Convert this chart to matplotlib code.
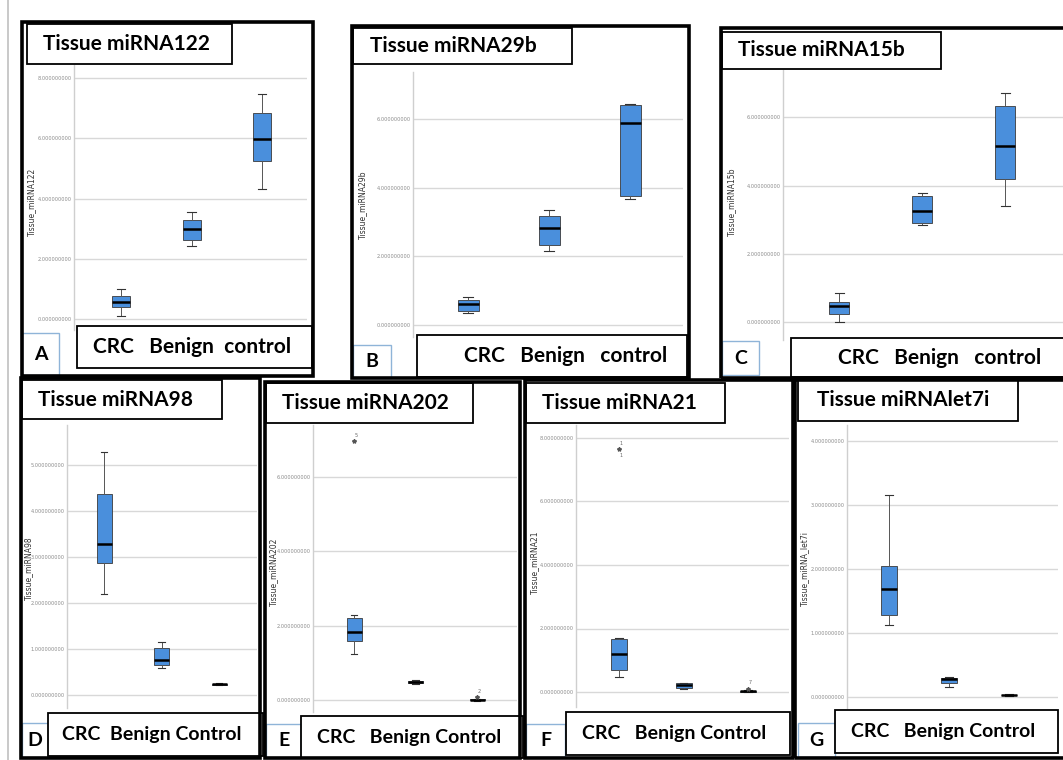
import matplotlib
matplotlib.use('Agg')
import matplotlib.pyplot as plt
from matplotlib.patches import Rectangle

W, H = 1063, 760

# five-number summaries per group: whislo, q1, median, q3, whishi
mir122 = [[0.10, 0.41, 0.55, 0.78, 1.00], [2.44, 2.61, 2.99, 3.30, 3.55], [4.33, 5.26, 5.98, 6.84, 7.49]]
mir29b = [[0.34, 0.41, 0.60, 0.73, 0.81], [2.15, 2.32, 2.84, 3.18, 3.34], [3.67, 3.76, 5.89, 6.40, 6.43]]
mir15b = [[0.01, 0.22, 0.46, 0.59, 0.85], [2.84, 2.90, 3.26, 3.69, 3.79], [3.40, 4.18, 5.15, 6.33, 6.71]]
mir98 = [[2.19, 2.86, 3.28, 4.38, 5.28], [0.58, 0.65, 0.76, 1.03, 1.16], [0.21, 0.22, 0.24, 0.25, 0.27]]
mir202 = [[1.24, 1.58, 1.82, 2.21, 2.28], [0.44, 0.46, 0.49, 0.52, 0.54], [-0.02, 0.00, 0.01, 0.02, 0.04]]
mir21 = [[0.47, 0.68, 1.21, 1.67, 1.70], [0.10, 0.13, 0.21, 0.27, 0.29], [0.00, 0.01, 0.02, 0.04, 0.06]]
mirlet7i = [[1.12, 1.28, 1.68, 2.04, 3.15], [0.16, 0.22, 0.28, 0.30, 0.32], [0.02, 0.025, 0.03, 0.035, 0.04]]

# outliers: (group position, value, case label)
out202 = [(1, 6.96, '5'), (3, 0.08, '2')]
out21 = [(1, 7.65, '1'), (3, 0.10, '7')]

ticks_A = [0, 2, 4, 6, 8]
ticks_B = [0, 2, 4, 6]
ticks_C = [0, 2, 4, 6]
ticks_D = [0, 1, 2, 3, 4, 5]
ticks_E = [0, 2, 4, 6]
ticks_F = [0, 2, 4, 6, 8]
ticks_G = [0, 1, 2, 3, 4]

titles = ['Tissue miRNA122', 'Tissue miRNA29b', 'Tissue miRNA15b', 'Tissue miRNA98',
          'Tissue miRNA202', 'Tissue miRNA21', 'Tissue miRNAlet7i']
ylabels = ['Tissue_miRNA122', 'Tissue_miRNA29b', 'Tissue_miRNA15b', 'Tissue_miRNA98',
           'Tissue_miRNA202', 'Tissue_miRNA21', 'Tissue_miRNA_let7i']
cat_texts = ['CRC   Benign  control', 'CRC   Benign   control', 'CRC   Benign   control',
             'CRC  Benign Control', 'CRC   Benign Control', 'CRC   Benign Control',
             'CRC   Benign Control']
letters = ['A', 'B', 'C', 'D', 'E', 'F', 'G']

# layout in pixels
# axes box (x0,x1,y0,y1), pixel of value 0, px per unit, first box centre, spacing, box px
axes_px = [
    dict(ax=(74, 307, 65, 330), y0=319, ppu=30.1, cx=121, s=70.5, bw=18),
    dict(ax=(413, 683, 72, 337), y0=325, ppu=34.3, cx=468, s=81, bw=21),
    dict(ax=(783, 1063, 70, 340), y0=322, ppu=34.1, cx=839, s=83, bw=20),
    dict(ax=(67, 257, 425, 708), y0=695, ppu=46.0, cx=104, s=57.5, bw=15),
    dict(ax=(313, 517, 425, 712), y0=700, ppu=37.2, cx=354, s=61.5, bw=15),
    dict(ax=(576, 789, 425, 707), y0=692, ppu=31.75, cx=619, s=64.5, bw=16),
    dict(ax=(847, 1058, 425, 708), y0=697, ppu=64.0, cx=889, s=60, bw=16),
]
frames = [(22, 313, 22, 376), (352, 689, 26, 378), (721, 1068, 28, 378),
          (21, 260, 378, 758), (265, 520, 382, 758), (525, 793, 380, 758), (795, 1068, 380, 758)]
title_boxes = [(27, 232, 24, 64), (353, 572, 28, 64), (722, 941, 32, 69),
               (22, 222, 380, 419), (266, 473, 383, 423), (526, 725, 383, 423), (798, 1018, 380, 421)]
title_x = [43, 370, 738, 38, 282, 542, 817]
cat_boxes = [(77, 312, 326, 368), (417, 687, 335, 377), (791, 1068, 338, 377),
             (48, 263, 713, 756), (301, 523, 716, 758), (566, 790, 712, 755), (835, 1058, 710, 753)]
cat_x = [93, 464, 838, 62, 317, 582, 851]
cat_size = [15, 15, 15, 14, 14, 14, 14]
letter_boxes = [(22, 59, 333, 375), (353, 391, 345, 378), (722, 759, 341, 375),
                (22, 60, 723, 758), (266, 301, 724, 758), (526, 565, 724, 757), (798, 835, 723, 757)]
ylab_pos = [(32, 202), (363, 205), (732, 202), (29, 568), (274, 572), (535, 562), (805, 568)]

data = [mir122, mir29b, mir15b, mir98, mir202, mir21, mirlet7i]
ticks = [ticks_A, ticks_B, ticks_C, ticks_D, ticks_E, ticks_F, ticks_G]
outliers = [[], [], [], [], out202, out21, []]

BLUE = '#4a8fdc'
FONT = 'Lato'


def fig_rect(x0, x1, y0, y1):
    return [x0 / W, 1 - y1 / H, (x1 - x0) / W, (y1 - y0) / H]


def add_box(fig, box, lw, ec='black', fc='none', z=2):
    x0, y0, w, h = fig_rect(*box)
    fig.add_artist(Rectangle((x0, y0), w, h, transform=fig.transFigure,
                             fc=fc, ec=ec, lw=lw, zorder=z))


fig = plt.figure(figsize=(W / 100, H / 100), dpi=100)
fig.patch.set_facecolor('white')

# thin grey line at the far left
fig.add_artist(plt.Line2D([8 / W, 8 / W], [0, 1], transform=fig.transFigure,
                          color='#c0c0c0', lw=1.2))

for i in range(7):
    L = axes_px[i]
    x0, x1, y0, y1 = L['ax']
    ax = fig.add_axes(fig_rect(x0, x1, y0, y1))
    ax.set_facecolor('white')
    ax.set_ylim((L['y0'] - y1) / L['ppu'], (L['y0'] - y0) / L['ppu'])
    ax.set_xlim(1 - (L['cx'] - x0) / L['s'], 1 + (x1 - L['cx']) / L['s'])

    stats = [dict(whislo=g[0], q1=g[1], med=g[2], q3=g[3], whishi=g[4], fliers=[])
             for g in data[i]]
    bw = L['bw'] / L['s']
    ax.bxp(stats, positions=[1, 2, 3], widths=bw, patch_artist=True,
           showfliers=False,
           boxprops=dict(facecolor=BLUE, edgecolor='#3a3a3a', lw=0.6),
           medianprops=dict(color='black', lw=1.8),
           whiskerprops=dict(color='#555555', lw=0.7),
           capprops=dict(color='#333333', lw=0.8),
           capwidths=bw * 0.45, zorder=3)

    for pos, val, lab in outliers[i]:
        ax.plot(pos, val, marker='*', ms=3, color='#555555', zorder=4)
        ax.text(pos + 0.03, val + 6 / L['ppu'], lab, fontsize=3.5, color='#666666',
                ha='center', va='center')
        if lab == '1':
            ax.text(pos + 0.03, val - 6 / L['ppu'], lab, fontsize=3.5, color='#666666',
                    ha='center', va='center')

    ax.set_yticks(ticks[i])
    ax.set_yticklabels([f'{t:.9f}' for t in ticks[i]])
    ax.tick_params(axis='y', length=0, pad=1.5, labelsize=3.6, labelcolor='#8a8a8a')
    ax.set_xticks([])
    ax.grid(axis='y', color='#d8d8d8', lw=1.0)
    ax.set_axisbelow(True)
    for sp in ['top', 'right', 'bottom']:
        ax.spines[sp].set_visible(False)
    ax.spines['left'].set_color('#cfcfcf')
    ax.spines['left'].set_lw(1.0)

    lx, ly = ylab_pos[i]
    fig.text(lx / W, 1 - ly / H, ylabels[i], rotation=90, fontsize=5.5,
             color='#333333', ha='center', va='center')

    # letter box, category box, title box, frame
    add_box(fig, letter_boxes[i], 1.0, ec='#8fb4d8', fc='white', z=2)
    bx = letter_boxes[i]
    fig.text(((bx[0] + bx[1]) / 2 - (6 if i == 3 else 0)) / W, 1 - (bx[2] + bx[3]) / 2 / H,
             letters[i], fontsize=14, fontweight='bold', family=FONT,
             ha='center', va='center', zorder=3)
    add_box(fig, cat_boxes[i], 1.3, fc='white', z=4)
    cb = cat_boxes[i]
    fig.text(cat_x[i] / W, 1 - (cb[2] + cb[3]) / 2 / H, cat_texts[i], fontsize=cat_size[i],
             fontweight='bold', family=FONT, ha='left', va='center', zorder=5)
    add_box(fig, title_boxes[i], 1.3, fc='white', z=4)
    tb = title_boxes[i]
    fig.text(title_x[i] / W, 1 - (tb[2] + tb[3]) / 2 / H, titles[i], fontsize=15,
             fontweight='bold', family=FONT, ha='left', va='center', zorder=5)
    add_box(fig, frames[i], 2.6, z=6)

fig.savefig('out.png', dpi=100)
